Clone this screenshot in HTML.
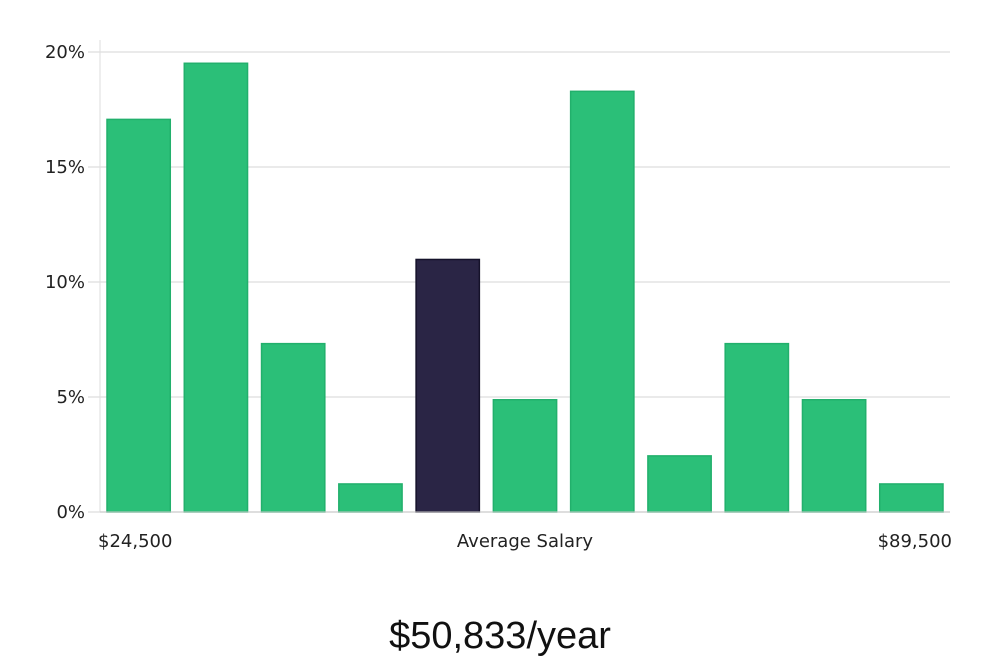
<!DOCTYPE html>
<html><head><meta charset="utf-8"><style>
html,body{margin:0;padding:0;background:#fff;width:1000px;height:660px;overflow:hidden}
svg{display:block}
text{font-family:"DejaVu Sans","Liberation Sans",sans-serif;fill:#222}
</style></head><body>
<svg id="chart" width="1000" height="660">
<g id="grid"></g><g id="bars"></g><g id="ticks"></g>
<line x1="100" y1="40" x2="100" y2="512" stroke="#ddd" stroke-width="1"/>
<line x1="100" y1="512" x2="950" y2="512" stroke="#ccc" stroke-width="1"/>
<text x="98" y="547" font-size="18">$24,500</text>
<text x="525" y="547" font-size="18" text-anchor="middle">Average Salary</text>
<text x="952" y="547" font-size="18" text-anchor="end">$89,500</text>
<text x="500" y="648" font-size="38" text-anchor="middle" style="font-family:'Liberation Sans',sans-serif;font-weight:300;fill:#111">$50,833/year</text>
</svg>
<script>
const values=[17.07,19.51,7.32,1.22,10.98,4.88,18.29,2.44,7.32,4.88,1.22];
const highlight=[false,false,false,false,true,false,false,false,false,false,false];
const tickValues=[0,5,10,15,20];
const tickLabels=["0%","5%","10%","15%","20%"];
const ns="http://www.w3.org/2000/svg";
const x0=100,x1=950,y0=512,y1=52,maxV=20;
const y=v=>y0-(v/maxV)*(y0-y1);
const slot=(x1-x0)/values.length;
const xb=i=>x0+i*slot+7;
const grid=document.getElementById('grid'),ticks=document.getElementById('ticks'),bars=document.getElementById('bars');
tickValues.forEach((t,i)=>{
 const l=document.createElementNS(ns,'line');
 l.setAttribute('x1',88);l.setAttribute('x2',x1);l.setAttribute('y1',y(t));l.setAttribute('y2',y(t));
 l.setAttribute('stroke','#e3e3e3');l.setAttribute('stroke-width','1.5');
 
 
 grid.appendChild(l);
 const tx=document.createElementNS(ns,'text');
 tx.setAttribute('x',85);tx.setAttribute('y',y(t)+6);tx.setAttribute('text-anchor','end');tx.setAttribute('font-size','18');
 tx.textContent=tickLabels[i];
 
 
 ticks.appendChild(tx);
});
values.forEach((v,i)=>{
 const r=document.createElementNS(ns,'rect');
 r.setAttribute('x',xb(i));r.setAttribute('width',slot-14);
 r.setAttribute('y',y(v));r.setAttribute('height',y0-y(v));
 r.setAttribute('fill',highlight[i]?'#2a2545':'#2bbf78');
 r.setAttribute('stroke',highlight[i]?'#15122a':'#22b06c');r.setAttribute('stroke-width','1.5');
 
 
 bars.appendChild(r);
});
</script>
</body></html>
